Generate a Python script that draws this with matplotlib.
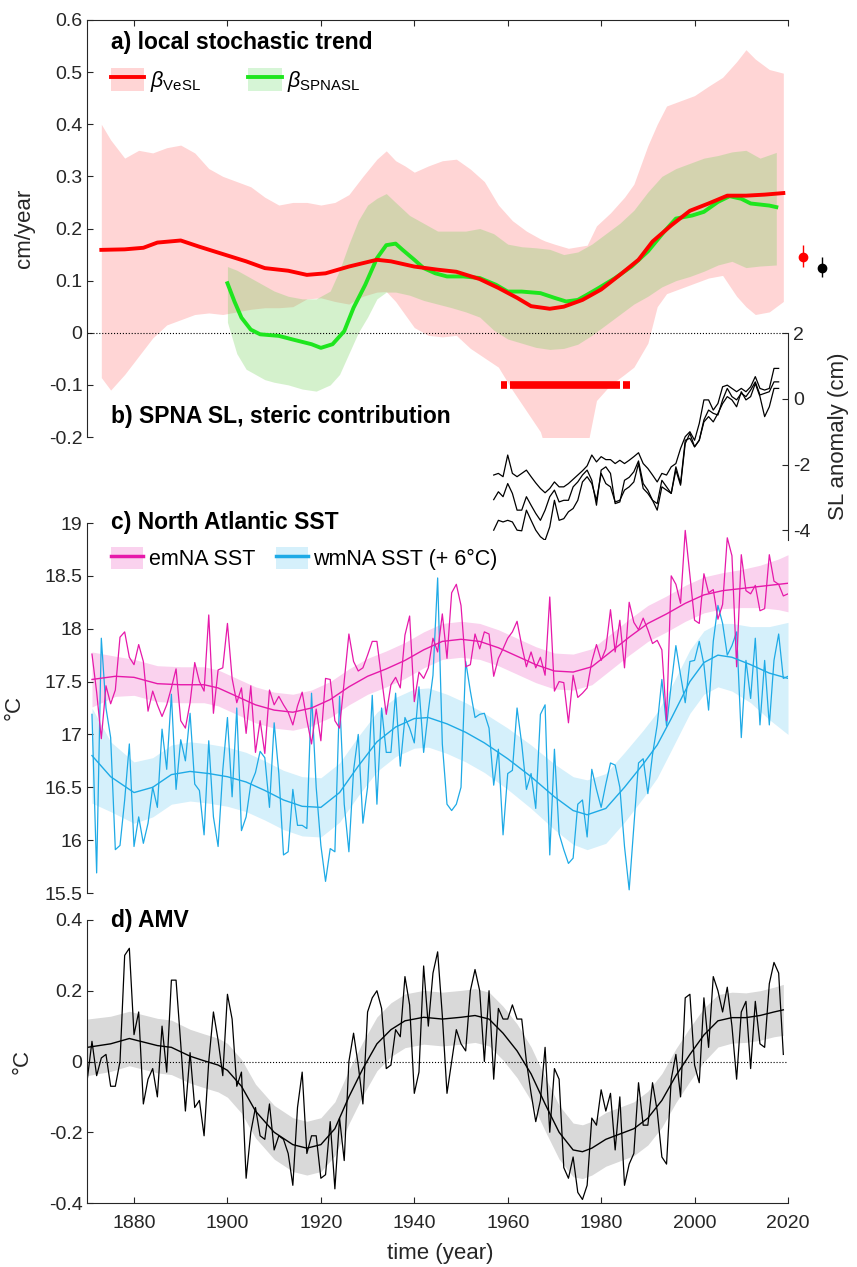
import numpy as np
import matplotlib
matplotlib.use("Agg")
import matplotlib.pyplot as plt
from matplotlib.patches import Patch
from matplotlib.lines import Line2D
from matplotlib.ticker import FuncFormatter

plt.rcParams['font.family'] = ['Liberation Sans', 'DejaVu Sans']
plt.rcParams['mathtext.fontset'] = 'custom'
plt.rcParams['mathtext.rm'] = 'Liberation Sans'
plt.rcParams['mathtext.it'] = 'Liberation Sans:italic'
plt.rcParams['axes.unicode_minus'] = False

# ============================================================
# data
# ============================================================

# --- a) local stochastic trend (cm/year)
vesl_years = [1873, 1878, 1882, 1885, 1890, 1894, 1899, 1904, 1908, 1913, 1917, 1921,
              1926, 1932, 1935, 1940, 1945, 1949, 1954, 1958, 1962, 1965, 1969, 1972,
              1976, 1980, 1984, 1988, 1991, 1995, 1999, 2003, 2007, 2011, 2015, 2019]
vesl = [0.159, 0.160, 0.163, 0.173, 0.177, 0.165, 0.151, 0.137, 0.124, 0.119, 0.111, 0.114,
        0.127, 0.140, 0.137, 0.127, 0.121, 0.117, 0.103, 0.086, 0.067, 0.051, 0.046, 0.050,
        0.063, 0.083, 0.111, 0.140, 0.175, 0.206, 0.234, 0.248, 0.263, 0.263, 0.265, 0.268]

vesl_band_years = [1873, 1875, 1878, 1881, 1884, 1887, 1890, 1893, 1896, 1899, 1902, 1905,
                   1908, 1911, 1914, 1917, 1920, 1923, 1926, 1929, 1932, 1934, 1936, 1938,
                   1940, 1943, 1946, 1949, 1952, 1955, 1958, 1961, 1964, 1967, 1968, 1970,
                   1973, 1977, 1979, 1982, 1985, 1987, 1990, 1992, 1994, 1997, 2000, 2003,
                   2006, 2009, 2011, 2013, 2016, 2019]
vesl_upper = [0.400, 0.370, 0.335, 0.350, 0.345, 0.355, 0.360, 0.345, 0.315, 0.300, 0.290, 0.280,
              0.260, 0.245, 0.250, 0.250, 0.245, 0.250, 0.265, 0.300, 0.333, 0.349, 0.330, 0.320,
              0.308, 0.320, 0.330, 0.333, 0.314, 0.290, 0.245, 0.215, 0.195, 0.180, 0.176, 0.170,
              0.162, 0.168, 0.205, 0.230, 0.260, 0.285, 0.359, 0.400, 0.435, 0.445, 0.455, 0.473,
              0.490, 0.520, 0.543, 0.525, 0.505, 0.498]
vesl_lower = [-0.086, -0.110, -0.080, -0.045, -0.010, 0.015, 0.025, 0.035, 0.038, 0.035, 0.040, 0.045,
              0.048, 0.048, 0.050, 0.065, 0.067, 0.060, 0.055, 0.070, 0.078, 0.079, 0.060, 0.035,
              0.010, -0.005, -0.008, -0.005, -0.030, -0.048, -0.066, -0.110, -0.150, -0.190, -0.220, -0.220,
              -0.220, -0.220, -0.130, -0.100, -0.080, -0.066, -0.020, 0.050, 0.075, 0.085, 0.095, 0.105,
              0.110, 0.070, 0.050, 0.035, 0.040, 0.060]

spna_years = [1900, 1901.5, 1903, 1905, 1907, 1911, 1914, 1918, 1920, 1922.5, 1925, 1927,
              1929.5, 1932, 1934, 1936, 1937.5, 1940, 1942, 1944.5, 1947, 1950.5, 1954, 1957.5,
              1960, 1963, 1967, 1970, 1972.5, 1975, 1977, 1979.5, 1983, 1986.5, 1990, 1993.5,
              1996, 1999.5, 2002, 2005, 2007.5, 2010, 2012, 2016, 2017.5]
spna = [0.095, 0.060, 0.029, 0.006, -0.003, -0.006, -0.013, -0.022, -0.029, -0.022, 0.003, 0.048,
        0.092, 0.143, 0.168, 0.171, 0.159, 0.140, 0.124, 0.114, 0.108, 0.108, 0.105, 0.092,
        0.079, 0.079, 0.076, 0.067, 0.060, 0.063, 0.073, 0.086, 0.105, 0.127, 0.156, 0.194,
        0.219, 0.225, 0.232, 0.251, 0.262, 0.257, 0.248, 0.244, 0.241]

spna_band_years = [1900, 1902, 1904, 1906, 1908, 1910, 1913, 1916, 1919, 1922, 1924, 1926,
                   1928, 1930, 1932, 1934, 1936, 1939, 1942, 1945, 1948, 1951, 1954, 1957,
                   1960, 1963, 1966, 1969, 1972, 1975, 1978, 1981, 1984, 1987, 1990, 1993,
                   1996, 1999, 2002, 2005, 2008, 2011, 2014, 2017.5]
spna_upper = [0.127, 0.120, 0.110, 0.100, 0.090, 0.080, 0.070, 0.065, 0.065, 0.080, 0.120, 0.170,
              0.215, 0.245, 0.258, 0.267, 0.250, 0.225, 0.210, 0.195, 0.195, 0.195, 0.200, 0.190,
              0.170, 0.165, 0.163, 0.160, 0.150, 0.155, 0.170, 0.190, 0.210, 0.235, 0.270, 0.300,
              0.315, 0.325, 0.335, 0.340, 0.347, 0.350, 0.335, 0.346]
spna_lower = [0.020, -0.040, -0.070, -0.080, -0.090, -0.095, -0.100, -0.108, -0.112, -0.100, -0.080, -0.040,
              0.000, 0.030, 0.065, 0.078, 0.078, 0.072, 0.062, 0.055, 0.048, 0.040, 0.030, 0.005,
              -0.012, -0.020, -0.028, -0.032, -0.030, -0.022, -0.005, 0.015, 0.035, 0.055, 0.070, 0.088,
              0.100, 0.108, 0.118, 0.130, 0.137, 0.125, 0.128, 0.130]

# significance bar at -0.1 (start, end in years)
signif_start = [1958.5, 1960.5, 1984.7]
signif_end = [1959.8, 1984.1, 1986.1]

# right-hand estimates (x position in years, value, error low/high)
dot_x = [2023.3, 2027.3]
dot_y = [0.146, 0.125]
dot_err_lo = [0.020, 0.019]
dot_err_hi = [0.023, 0.020]
dot_colors = ['red', 'black']

# --- b) SPNA SL steric contribution (cm), 1957-2018
sl_years = np.arange(1957, 2019)
sl_top = [-2.32, -2.27, -2.37, -1.71, -2.27, -2.37, -2.27, -2.17, -2.37, -2.56, -2.73, -2.86,
          -2.73, -2.53, -2.68, -2.68, -2.58, -2.45, -2.32, -2.19, -2.04, -1.71, -1.92, -1.76,
          -1.85, -1.85, -1.97, -1.87, -1.97, -1.87, -1.76, -1.64, -1.97, -2.12, -2.32, -2.53,
          -2.27, -2.32, -2.07, -1.97, -1.51, -1.15, -1.00, -1.26, -0.75, -0.03, -0.03, -0.34,
          -0.14, 0.37, 0.42, 0.32, 0.22, 0.32, 0.22, 0.37, 0.68, 0.32, 0.27, 0.32, 0.93, 0.93]
sl_mid = [-3.07, -2.83, -2.98, -2.58, -2.88, -3.39, -3.39, -2.98, -3.24, -3.49, -3.70, -3.39,
          -2.98, -2.78, -3.14, -3.09, -3.09, -2.68, -2.53, -2.32, -2.17, -2.48, -3.24, -2.17,
          -2.07, -2.27, -3.19, -3.14, -2.48, -2.39, -2.22, -1.89, -2.58, -2.78, -3.09, -3.39,
          -2.68, -2.78, -2.88, -2.17, -2.63, -1.36, -1.05, -1.46, -1.26, -0.64, -0.34, -0.44,
          -0.49, -0.03, 0.32, 0.07, -0.03, 0.17, 0.07, 0.27, 0.52, 0.12, 0.17, 0.22, 0.52, 0.52]
sl_bot = [-4.00, -3.70, -3.75, -3.70, -3.75, -4.00, -4.02, -3.39, -3.70, -4.00, -4.20, -4.31,
          -3.90, -3.09, -3.70, -3.65, -3.44, -3.34, -3.09, -2.53, -2.37, -2.58, -3.09, -2.27,
          -2.58, -2.68, -3.14, -3.09, -2.78, -2.68, -2.53, -1.97, -2.73, -2.88, -3.09, -3.19,
          -2.48, -2.68, -2.88, -2.07, -2.58, -1.26, -1.20, -1.46, -1.26, -0.70, -0.54, -0.70,
          -0.44, -0.14, 0.07, -0.03, -0.24, 0.22, -0.03, 0.07, 0.47, 0.07, -0.54, -0.24, 0.32, 0.32]

# --- c) North Atlantic SST (degC), 1871-2020
sst_years = np.arange(1871, 2021)
emna = [17.76, 17.40, 16.96, 17.46, 17.29, 17.42, 17.92, 17.97, 17.73, 17.66,
        17.85, 17.69, 17.22, 17.41, 17.28, 17.17, 17.28, 17.44, 17.62, 17.13,
        17.06, 17.30, 17.68, 17.50, 17.41, 18.13, 17.20, 17.61, 17.63, 18.05,
        17.53, 17.30, 17.44, 17.01, 17.46, 16.83, 17.13, 16.82, 17.42, 17.28,
        17.36, 17.28, 17.21, 17.09, 17.27, 17.40, 17.14, 16.91, 17.24, 16.94,
        17.53, 17.52, 17.13, 17.06, 17.50, 17.95, 17.69, 17.60, 17.63, 17.75,
        17.88, 17.88, 17.53, 17.19, 17.47, 17.54, 17.44, 17.94, 18.12, 17.31,
        17.59, 17.53, 17.63, 17.91, 17.78, 18.14, 17.72, 18.34, 18.42, 18.22,
        17.64, 17.66, 17.95, 17.81, 17.97, 17.95, 17.55, 17.72, 17.81, 17.91,
        17.97, 18.07, 17.84, 17.64, 17.78, 17.63, 17.73, 17.56, 18.30, 17.41,
        17.50, 17.49, 17.11, 17.56, 17.35, 17.39, 17.44, 17.69, 17.85, 17.70,
        17.81, 18.18, 17.78, 18.08, 17.63, 18.25, 18.06, 17.99, 18.10, 17.99,
        17.86, 17.89, 17.80, 17.13, 18.50, 18.42, 18.24, 18.93, 18.50, 18.08,
        18.05, 18.52, 18.34, 18.37, 18.09, 18.23, 18.86, 18.69, 17.64, 18.70,
        18.36, 18.33, 18.41, 18.17, 18.19, 18.70, 18.45, 18.42, 18.31, 18.33]
wmna = [17.19, 15.69, 17.91, 17.25, 16.97, 15.91, 15.95, 16.38, 16.91, 15.94,
        16.22, 15.97, 16.16, 16.50, 16.31, 17.05, 16.67, 17.38, 16.48, 16.95,
        16.75, 17.20, 16.53, 16.47, 16.05, 16.94, 16.22, 15.94, 16.66, 17.16,
        16.41, 17.25, 16.09, 16.22, 16.53, 16.64, 16.84, 16.78, 16.31, 17.11,
        16.63, 15.86, 15.89, 16.48, 16.14, 16.14, 16.11, 17.39, 16.50, 15.95,
        15.61, 15.92, 15.89, 17.36, 16.34, 15.89, 16.66, 17.00, 16.16, 16.50,
        17.37, 16.34, 17.25, 16.83, 16.83, 17.39, 16.70, 17.16, 17.06, 16.92,
        17.45, 16.83, 17.22, 17.56, 18.48, 16.91, 16.34, 16.28, 16.34, 16.50,
        17.69, 17.41, 17.16, 17.19, 17.20, 17.06, 16.52, 16.86, 16.05, 16.63,
        16.66, 17.25, 16.91, 16.48, 16.63, 16.30, 17.19, 17.28, 15.86, 16.86,
        16.06, 15.91, 15.78, 15.83, 16.34, 16.38, 16.03, 16.67, 16.48, 16.31,
        16.53, 16.73, 16.71, 16.50, 15.94, 15.53, 16.13, 16.73, 16.77, 16.44,
        16.81, 17.09, 17.52, 17.08, 17.47, 17.84, 17.56, 17.30, 17.69, 17.70,
        17.88, 17.66, 17.23, 17.88, 18.22, 18.05, 17.75, 17.84, 17.97, 16.97,
        17.70, 17.34, 17.91, 17.09, 17.70, 17.09, 17.70, 17.95, 17.53, 17.55]

emna_smooth_years = [1871, 1876, 1880, 1885, 1890, 1895, 1898, 1902, 1906, 1910, 1914, 1918, 1922,
                     1926, 1930, 1934, 1938, 1942, 1946, 1950, 1954, 1958, 1962, 1966, 1970, 1974,
                     1978, 1982, 1986, 1990, 1994, 1998, 2002, 2006, 2010, 2014, 2018, 2020]
emna_smooth = [17.52, 17.55, 17.54, 17.48, 17.47, 17.47, 17.44, 17.36, 17.28, 17.23, 17.21, 17.25, 17.33,
               17.45, 17.55, 17.62, 17.70, 17.80, 17.88, 17.90, 17.88, 17.82, 17.74, 17.66, 17.60, 17.59,
               17.64, 17.78, 17.92, 18.05, 18.14, 18.24, 18.32, 18.36, 18.38, 18.40, 18.42, 18.43]
emna_halfwidth = [0.26, 0.19, 0.17, 0.17, 0.17, 0.17, 0.17, 0.17, 0.17, 0.17, 0.17, 0.17, 0.17,
                  0.17, 0.17, 0.17, 0.17, 0.17, 0.17, 0.17, 0.17, 0.17, 0.17, 0.17, 0.17, 0.17,
                  0.17, 0.17, 0.17, 0.17, 0.17, 0.17, 0.17, 0.17, 0.18, 0.20, 0.24, 0.27]

wmna_smooth_years = [1871, 1875, 1880, 1884, 1888, 1892, 1896, 1900, 1904, 1908, 1912, 1916, 1920,
                     1924, 1928, 1932, 1936, 1940, 1943, 1947, 1951, 1955, 1960, 1965, 1970, 1974,
                     1977, 1981, 1985, 1989, 1992, 1995, 1999, 2002, 2005, 2008, 2012, 2016, 2020]
wmna_smooth = [16.80, 16.60, 16.45, 16.50, 16.62, 16.65, 16.63, 16.60, 16.55, 16.47, 16.38, 16.32, 16.31,
               16.45, 16.70, 16.93, 17.07, 17.15, 17.16, 17.10, 17.02, 16.92, 16.77, 16.60, 16.41, 16.28,
               16.24, 16.30, 16.50, 16.72, 16.90, 17.15, 17.50, 17.68, 17.75, 17.73, 17.66, 17.58, 17.53]
wmna_halfwidth = [0.45, 0.33, 0.29, 0.28, 0.28, 0.28, 0.28, 0.28, 0.28, 0.28, 0.28, 0.28, 0.28,
                  0.28, 0.28, 0.28, 0.28, 0.28, 0.28, 0.28, 0.28, 0.28, 0.29, 0.30, 0.31, 0.32,
                  0.33, 0.33, 0.33, 0.32, 0.31, 0.30, 0.30, 0.30, 0.30, 0.32, 0.36, 0.44, 0.53]

# --- d) AMV (degC), 1870-2019
amv_years = np.arange(1870, 2020)
amv = [-0.05, 0.057, -0.04, 0.01, 0.02, -0.07, -0.07, 0.00, 0.30, 0.32,
       0.076, 0.14, -0.12, -0.05, -0.02, -0.10, 0.10, -0.03, 0.23, 0.23,
       0.05, -0.14, 0.025, -0.13, -0.11, -0.21, 0.00, 0.14, 0.06, -0.04,
       0.19, 0.12, -0.07, -0.03, -0.33, -0.20, -0.13, -0.21, -0.22, -0.12,
       -0.25, -0.21, -0.22, -0.26, -0.35, -0.13, -0.03, -0.26, -0.21, -0.21,
       -0.33, -0.32, -0.17, -0.36, -0.16, -0.28, 0.00, 0.08, -0.01, -0.12,
       0.14, 0.18, 0.20, 0.15, -0.02, -0.01, 0.09, 0.07, 0.24, 0.16,
       -0.09, -0.03, 0.27, 0.10, 0.25, 0.31, 0.13, -0.09, 0.00, 0.09,
       0.05, 0.03, 0.20, 0.26, 0.20, 0.00, 0.20, -0.05, 0.15, 0.12,
       0.12, 0.16, 0.12, 0.12, 0.00, -0.09, -0.17, -0.11, 0.04, -0.20,
       -0.02, -0.05, -0.30, -0.33, -0.27, -0.37, -0.39, -0.35, -0.16, -0.18,
       -0.08, -0.14, -0.09, -0.25, -0.10, -0.35, -0.29, -0.26, -0.06, -0.18,
       -0.18, -0.06, -0.14, -0.27, -0.29, -0.05, 0.02, -0.10, 0.18, 0.19,
       -0.01, -0.06, 0.18, 0.04, 0.24, 0.20, 0.14, 0.21, 0.10, -0.05,
       0.14, 0.17, -0.02, 0.17, 0.05, 0.04, 0.22, 0.28, 0.25, 0.02]

amv_smooth_years = [1870, 1875, 1879, 1885, 1888, 1892, 1895, 1898, 1900, 1903, 1906, 1910, 1914,
                    1917, 1920, 1923, 1926, 1929, 1932, 1935, 1938, 1942, 1946, 1950, 1953, 1956,
                    1959, 1962, 1965, 1968, 1971, 1974, 1976, 1978, 1981, 1984, 1987, 1990, 1993,
                    1996, 1999, 2002, 2005, 2008, 2011, 2014, 2017, 2019]
amv_smooth = [0.040, 0.050, 0.065, 0.045, 0.040, 0.015, 0.002, -0.010, -0.025, -0.070, -0.140, -0.200, -0.235,
              -0.245, -0.235, -0.190, -0.100, -0.020, 0.050, 0.090, 0.115, 0.125, 0.120, 0.125, 0.130, 0.120,
              0.080, 0.030, -0.035, -0.120, -0.200, -0.250, -0.255, -0.245, -0.220, -0.205, -0.190, -0.160, -0.110,
              -0.040, 0.020, 0.075, 0.115, 0.124, 0.124, 0.130, 0.140, 0.146]
amv_halfwidth = [0.080, 0.078, 0.077, 0.077, 0.077, 0.076, 0.076, 0.076, 0.076, 0.076, 0.076, 0.076, 0.076,
                 0.076, 0.076, 0.076, 0.076, 0.076, 0.076, 0.076, 0.076, 0.076, 0.076, 0.076, 0.076, 0.076,
                 0.076, 0.076, 0.076, 0.076, 0.076, 0.076, 0.076, 0.076, 0.076, 0.076, 0.076, 0.076, 0.076,
                 0.076, 0.076, 0.076, 0.074, 0.072, 0.070, 0.070, 0.070, 0.072]

# ============================================================
# styling
# ============================================================
AX_COL = '#262626'
RED = '#FF0000'
PINK_BAND = '#FFD5D5'
GREEN = '#1EE61E'
GREEN_BAND = (0.45, 0.82, 0.35)
MAGENTA = '#E619AA'
MAGENTA_BAND = '#FAD2EE'
CYAN = '#1EAAE6'
CYAN_BAND = '#D5F0FB'
GRAY_BAND = '#D9D9D9'
TICK_FS = 14
LABEL_FS = 16
TITLE_FS = 16.5
LEG_FS = 15.5

W, H = 857, 1267
fig = plt.figure(figsize=(W / 100, H / 100), dpi=100)

def box(x0, y0, x1, y1):
    # pixel box (top-left origin) -> figure fraction rect
    return [x0 / W, 1 - y1 / H, (x1 - x0) / W, (y1 - y0) / H]

XL, XR = 87.3, 788.0
ax_a = fig.add_axes(box(XL, 20, XR, 437))
ax_c = fig.add_axes(box(XL, 523, XR, 893))
ax_d = fig.add_axes(box(XL, 920, XR, 1203))
ax_b = fig.add_axes(box(XL, 333.3, XR, 540))
ax_b.patch.set_alpha(0)

fmt = FuncFormatter(lambda v, p: f'{v:g}')

for ax in (ax_a, ax_b, ax_c, ax_d):
    ax.set_xlim(1870, 2020)
    for s in ax.spines.values():
        s.set_visible(False)
        s.set_color(AX_COL)
        s.set_linewidth(0.8)
    ax.tick_params(direction='in', length=4.5, width=0.8, colors=AX_COL,
                   labelsize=TICK_FS, labelcolor=AX_COL)
    ax.yaxis.set_major_formatter(fmt)

# ---------------- panel a ----------------
ax_a.fill_between(vesl_band_years, vesl_lower, vesl_upper, color=PINK_BAND, lw=0)
ax_a.fill_between(spna_band_years, spna_lower, spna_upper, color=GREEN_BAND, alpha=0.3, lw=0)
ax_a.axhline(0, color='black', ls=':', lw=0.8)
ax_a.plot(spna_years, spna, color=GREEN, lw=2.8)
ax_a.plot(vesl_years, vesl, color=RED, lw=2.8)
ax_a.hlines([-0.1] * len(signif_start), signif_start, signif_end, color=RED, lw=5.5)
for x, y, lo, hi, c in zip(dot_x, dot_y, dot_err_lo, dot_err_hi, dot_colors):
    eb = ax_a.errorbar(x, y, yerr=[[lo], [hi]], fmt='o', color=c, ms=6, elinewidth=1,
                       capsize=0)
    for art in eb.get_children():
        art.set_clip_on(False)
ax_a.set_ylim(-0.2, 0.6)
ax_a.set_yticks(np.arange(-0.2, 0.61, 0.1))
ax_a.spines['left'].set_visible(True)
ax_a.spines['top'].set_visible(True)
ax_a.xaxis.tick_top()
ax_a.set_xticks(np.arange(1880, 2021, 20))
ax_a.tick_params(axis='x', labeltop=False, labelbottom=False)
ax_a.set_ylabel('cm/year', fontsize=LABEL_FS, color=AX_COL)
ax_a.yaxis.set_label_coords(-0.075, 0.5)
ax_a.text(0.034, 0.945, 'a) local stochastic trend', transform=ax_a.transAxes,
          fontsize=TITLE_FS, fontweight='bold', va='center')
ax_a.text(0.034, 0.048, 'b) SPNA SL, steric contribution', transform=ax_a.transAxes,
          fontsize=TITLE_FS, fontweight='bold', va='center')
h_a = [(Patch(facecolor=PINK_BAND, lw=0), Line2D([], [], color=RED, lw=2.8)),
       (Patch(facecolor=(0.84, 0.96, 0.84), lw=0), Line2D([], [], color=GREEN, lw=2.8))]
ax_a.legend(h_a, [r'$\beta_{\mathrm{VeSL}}$', r'$\beta_{\mathrm{SPNASL}}$'],
            loc='upper left', bbox_to_anchor=(0.034, 0.885), ncol=2, frameon=False,
            fontsize=LEG_FS, handlelength=1.55, handleheight=1.25, handletextpad=0.25,
            columnspacing=2.2, borderpad=0, borderaxespad=0)

# ---------------- panel b ----------------
for series in (sl_top, sl_mid, sl_bot):
    ax_b.plot(sl_years, series, color='black', lw=0.9)
ax_b.set_ylim(-4.3, 2)
ax_b.set_yticks([-4, -2, 0, 2])
ax_b.spines['right'].set_visible(True)
ax_b.yaxis.tick_right()
ax_b.yaxis.set_label_position('right')
ax_b.set_xticks([])
ax_b.set_ylabel('SL anomaly (cm)', fontsize=LABEL_FS, color=AX_COL, rotation=90)
ax_b.yaxis.set_label_coords(1.057, 0.5)

# ---------------- panel c ----------------
em_s = np.array(emna_smooth)
wm_s = np.array(wmna_smooth)
ax_c.fill_between(emna_smooth_years, em_s - np.array(emna_halfwidth),
                  em_s + np.array(emna_halfwidth), color=MAGENTA_BAND, lw=0)
ax_c.fill_between(wmna_smooth_years, wm_s - np.array(wmna_halfwidth),
                  wm_s + np.array(wmna_halfwidth), color=CYAN_BAND, lw=0)
ax_c.plot(sst_years, wmna, color=CYAN, lw=0.9)
ax_c.plot(sst_years, emna, color=MAGENTA, lw=0.9)
ax_c.plot(emna_smooth_years, emna_smooth, color=MAGENTA, lw=1.0)
ax_c.plot(wmna_smooth_years, wmna_smooth, color=CYAN, lw=1.0)
ax_c.set_ylim(15.5, 19)
ax_c.set_yticks(np.arange(15.5, 19.01, 0.5))
ax_c.set_xticks([])
ax_c.spines['left'].set_visible(True)
ax_c.set_ylabel('°C', fontsize=LABEL_FS, color=AX_COL)
ax_c.yaxis.set_label_coords(-0.089, 0.5)
ax_c.text(0.034, 1.0, 'c) North Atlantic SST', transform=ax_c.transAxes,
          fontsize=TITLE_FS, fontweight='bold', va='center')
h_c = [(Patch(facecolor=MAGENTA_BAND, lw=0), Line2D([], [], color=MAGENTA, lw=2.5)),
       (Patch(facecolor=CYAN_BAND, lw=0), Line2D([], [], color=CYAN, lw=2.5))]
ax_c.legend(h_c, ['emNA SST', 'wmNA SST (+ 6°C)'], loc='upper left',
            bbox_to_anchor=(0.034, 0.935), ncol=2, frameon=False, fontsize=LEG_FS,
            handlelength=1.5, handleheight=1.2, handletextpad=0.25, columnspacing=0.95,
            borderpad=0, borderaxespad=0)

# ---------------- panel d ----------------
am_s = np.array(amv_smooth)
ax_d.fill_between(amv_smooth_years, am_s - np.array(amv_halfwidth),
                  am_s + np.array(amv_halfwidth), color=GRAY_BAND, lw=0)
ax_d.axhline(0, color='black', ls=':', lw=0.8)
ax_d.plot(amv_years, amv, color='black', lw=0.9)
ax_d.plot(amv_smooth_years, amv_smooth, color='black', lw=1.0)
ax_d.set_ylim(-0.4, 0.4)
ax_d.set_yticks([-0.4, -0.2, 0, 0.2, 0.4])
ax_d.set_xticks(np.arange(1880, 2021, 20))
ax_d.tick_params(axis='x', pad=9)
ax_d.spines['left'].set_visible(True)
ax_d.spines['bottom'].set_visible(True)
ax_d.set_ylabel('°C', fontsize=LABEL_FS, color=AX_COL)
ax_d.yaxis.set_label_coords(-0.078, 0.5)
ax_d.set_xlabel('time (year)', fontsize=LABEL_FS, color=AX_COL)
ax_d.xaxis.set_label_coords(0.503, -0.141)
ax_d.text(0.034, 1.0, 'd) AMV', transform=ax_d.transAxes,
          fontsize=TITLE_FS, fontweight='bold', va='center')

fig.savefig('out.png', dpi=100)
